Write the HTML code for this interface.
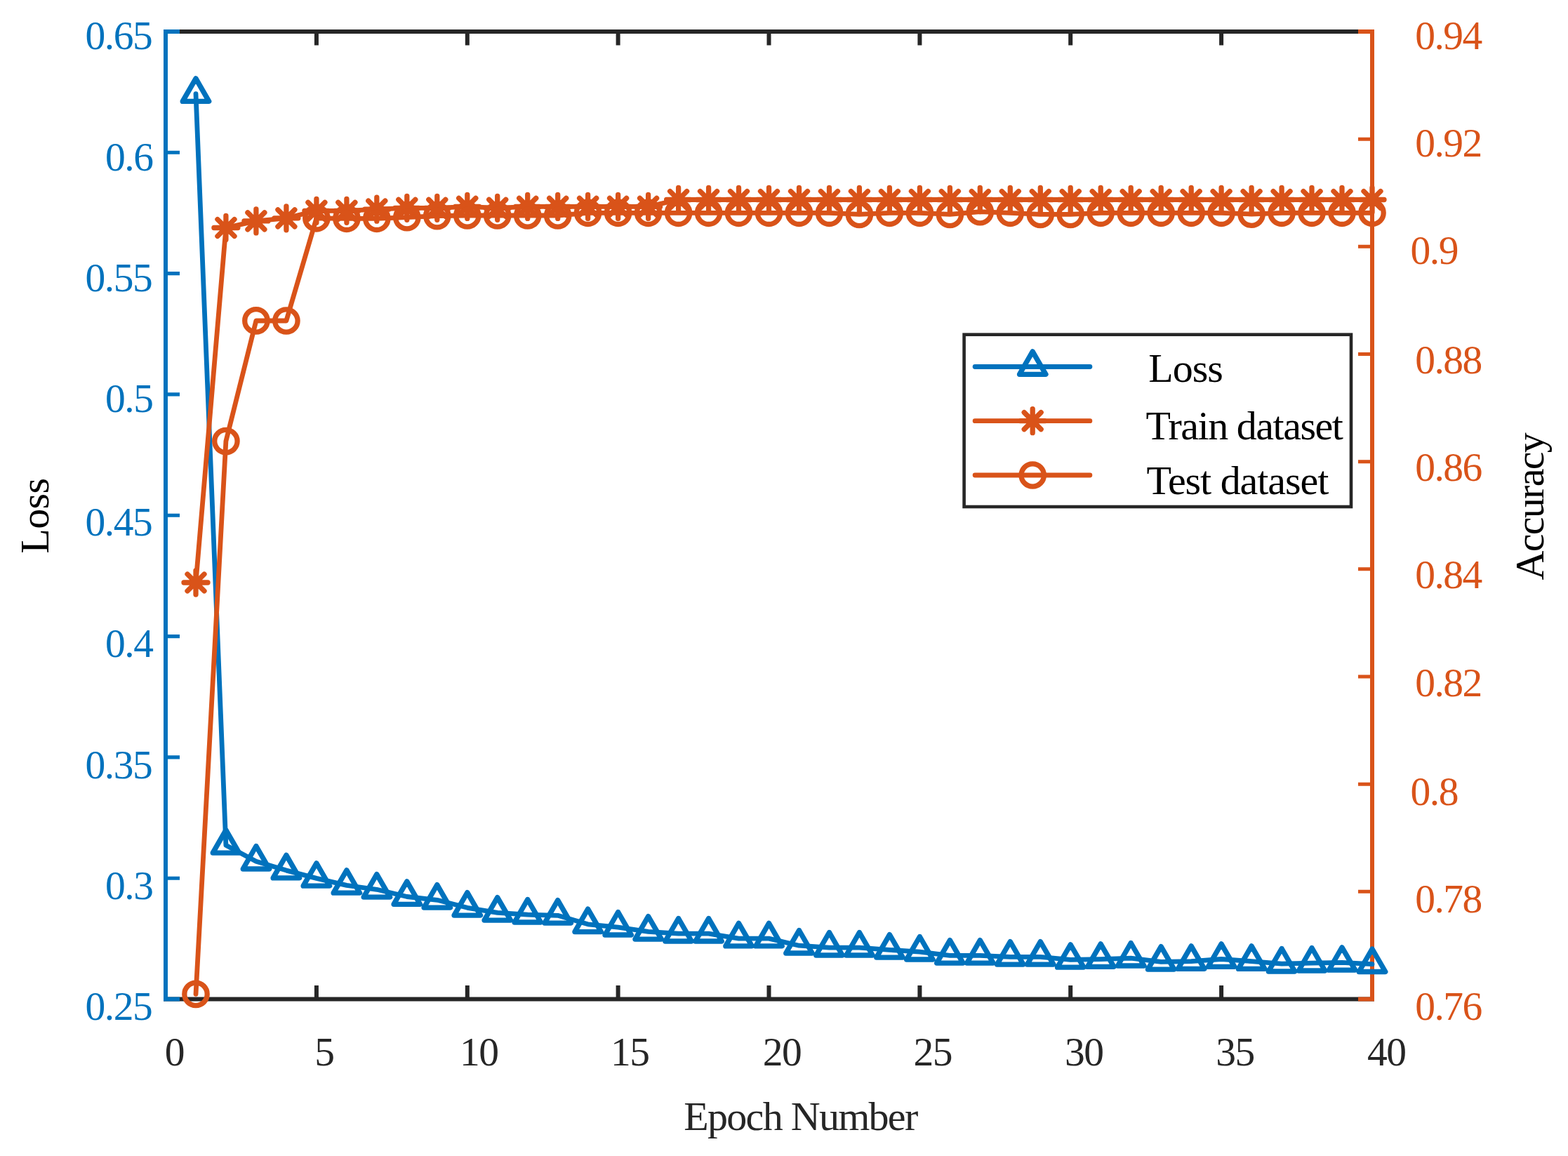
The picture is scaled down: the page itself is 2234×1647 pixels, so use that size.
<!DOCTYPE html>
<html><head><meta charset="utf-8"><title>Loss and Accuracy vs Epoch</title>
<style>
html,body{margin:0;padding:0;background:#fff;}
body{width:2234px;height:1647px;overflow:hidden;}
svg{display:block;}
text{font-family:"Liberation Serif","Times New Roman",serif;}
</style></head><body>
<svg width="2234" height="1647" viewBox="0 0 2234 1647">
<rect x="0" y="0" width="2234" height="1647" fill="#fff"/>

<g fill="none" stroke="#262626" stroke-width="6" stroke-linecap="butt">
<path d="M233 45H1958M233 1423.5H1958"/>
<path stroke-width="6" d="M236 1423.5V1404M236 45V64.5M450.9 1423.5V1404M450.9 45V64.5M665.8 1423.5V1404M665.8 45V64.5M880.6 1423.5V1404M880.6 45V64.5M1095.5 1423.5V1404M1095.5 45V64.5M1310.4 1423.5V1404M1310.4 45V64.5M1525.2 1423.5V1404M1525.2 45V64.5M1740.1 1423.5V1404M1740.1 45V64.5M1955 1423.5V1404M1955 45V64.5"/>
</g>
<path fill="none" stroke="#0072BD" stroke-width="6" d="M236 42V1426.5M236 1423.5H256M236 45H256"/>
<path fill="none" stroke="#0072BD" stroke-width="5.1" d="M236 1251.2H256M236 1078.9H256M236 906.6H256M236 734.2H256M236 561.9H256M236 389.6H256M236 217.3H256"/>
<path fill="none" stroke="#D95319" stroke-width="6" d="M1955 42V1426.5M1955 1423.5H1935M1955 45H1935"/>
<path fill="none" stroke="#D95319" stroke-width="5.1" d="M1955 1270.3H1935M1955 1117.2H1935M1955 964H1935M1955 810.8H1935M1955 657.7H1935M1955 504.5H1935M1955 351.3H1935M1955 198.2H1935"/>
<g fill="none" stroke="#0072BD" stroke-width="6.8" stroke-linejoin="round" stroke-linecap="round">
<path d="M279 133.6 L321.9 1204.3 L364.9 1227.2 L407.9 1240.1 L450.9 1251.4 L493.9 1261.4 L536.8 1267.3 L579.8 1277.5 L622.8 1282.3 L665.8 1293.3 L708.7 1300.3 L751.7 1303.2 L794.7 1304.3 L837.6 1316.8 L880.6 1321.2 L923.6 1327.3 L966.6 1330.2 L1009.6 1330.2 L1052.5 1337.1 L1095.5 1337.1 L1138.5 1347.2 L1181.5 1350.2 L1224.4 1350.2 L1267.4 1353.3 L1310.4 1356.2 L1353.4 1361.3 L1396.3 1361.3 L1439.3 1363.3 L1482.3 1363.3 L1525.2 1367.4 L1568.2 1366.6 L1611.2 1365.2 L1654.2 1370.3 L1697.2 1369.6 L1740.1 1366.5 L1783.1 1369.6 L1826.1 1373.2 L1869 1372.2 L1912 1371.4 L1955 1373.7"/>
<path stroke-width="7.3" d="M279 111.9L297.7 144.4L260.2 144.4ZM321.9 1182.6L340.7 1215.1L303.2 1215.1ZM364.9 1205.5L383.7 1238L346.2 1238ZM407.9 1218.4L426.6 1250.9L389.1 1250.9ZM450.9 1229.8L469.6 1262.2L432.1 1262.2ZM493.9 1239.8L512.6 1272.2L475.1 1272.2ZM536.8 1245.6L555.6 1278.1L518.1 1278.1ZM579.8 1255.8L598.5 1288.3L561 1288.3ZM622.8 1260.6L641.5 1293.1L604 1293.1ZM665.8 1271.6L684.5 1304.1L647 1304.1ZM708.7 1278.6L727.5 1311.1L690 1311.1ZM751.7 1281.5L770.5 1314L733 1314ZM794.7 1282.6L813.4 1315.1L775.9 1315.1ZM837.6 1295.1L856.4 1327.6L818.9 1327.6ZM880.6 1299.5L899.4 1332L861.9 1332ZM923.6 1305.6L942.4 1338.1L904.9 1338.1ZM966.6 1308.5L985.3 1341L947.8 1341ZM1009.6 1308.5L1028.3 1341L990.8 1341ZM1052.5 1315.4L1071.3 1347.9L1033.8 1347.9ZM1095.5 1315.4L1114.2 1347.9L1076.8 1347.9ZM1138.5 1325.5L1157.2 1358L1119.7 1358ZM1181.5 1328.5L1200.2 1361L1162.7 1361ZM1224.4 1328.5L1243.2 1361L1205.7 1361ZM1267.4 1331.6L1286.2 1364.1L1248.7 1364.1ZM1310.4 1334.5L1329.1 1367L1291.6 1367ZM1353.4 1339.6L1372.1 1372.1L1334.6 1372.1ZM1396.3 1339.6L1415.1 1372.1L1377.6 1372.1ZM1439.3 1341.6L1458 1374.1L1420.5 1374.1ZM1482.3 1341.6L1501 1374.1L1463.5 1374.1ZM1525.2 1345.8L1544 1378.2L1506.5 1378.2ZM1568.2 1344.9L1587 1377.4L1549.5 1377.4ZM1611.2 1343.5L1630 1376L1592.5 1376ZM1654.2 1348.6L1672.9 1381.1L1635.4 1381.1ZM1697.2 1347.9L1715.9 1380.4L1678.4 1380.4ZM1740.1 1344.8L1758.9 1377.3L1721.4 1377.3ZM1783.1 1347.9L1801.9 1380.4L1764.4 1380.4ZM1826.1 1351.5L1844.8 1384L1807.3 1384ZM1869 1350.5L1887.8 1383L1850.3 1383ZM1912 1349.8L1930.8 1382.2L1893.3 1382.2ZM1955 1352L1973.8 1384.5L1936.2 1384.5Z"/>
</g>
<g fill="none" stroke="#D95319" stroke-width="6.8" stroke-linejoin="round" stroke-linecap="round">
<path d="M279 830 L321.9 324.5 L364.9 314.9 L407.9 310.8 L450.9 300.3 L493.9 300.3 L536.8 298.2 L579.8 296.3 L622.8 296.3 L665.8 294.4 L708.7 296.3 L751.7 294.4 L794.7 294.4 L837.6 294.4 L880.6 294.4 L923.6 294.4 L966.6 284.5 L1009.6 284.5 L1052.5 284.5 L1095.5 284.5 L1138.5 284.5 L1181.5 284.5 L1224.4 284.5 L1267.4 284.5 L1310.4 284.5 L1353.4 284.5 L1396.3 284.5 L1439.3 284.5 L1482.3 284.5 L1525.2 284.5 L1568.2 284.5 L1611.2 284.5 L1654.2 284.5 L1697.2 284.5 L1740.1 284.5 L1783.1 284.5 L1826.1 284.5 L1869 284.5 L1912 284.5 L1955 284.5"/>
<path stroke-width="7.3" d="M262 830H296M279 813V847M267 818L291 842M267 842L291 818M304.9 324.5H338.9M321.9 307.5V341.5M309.9 312.5L334 336.5M309.9 336.5L334 312.5M347.9 314.9H381.9M364.9 297.9V331.9M352.9 302.9L376.9 326.9M352.9 326.9L376.9 302.9M390.9 310.8H424.9M407.9 293.8V327.8M395.9 298.8L419.9 322.8M395.9 322.8L419.9 298.8M433.9 300.3H467.9M450.9 283.3V317.3M438.9 288.3L462.9 312.3M438.9 312.3L462.9 288.3M476.9 300.3H510.9M493.9 283.3V317.3M481.8 288.3L505.9 312.3M481.8 312.3L505.9 288.3M519.8 298.2H553.8M536.8 281.2V315.2M524.8 286.2L548.8 310.2M524.8 310.2L548.8 286.2M562.8 296.3H596.8M579.8 279.3V313.3M567.8 284.3L591.8 308.3M567.8 308.3L591.8 284.3M605.8 296.3H639.8M622.8 279.3V313.3M610.8 284.3L634.8 308.3M610.8 308.3L634.8 284.3M648.8 294.4H682.8M665.8 277.4V311.4M653.7 282.4L677.8 306.4M653.7 306.4L677.8 282.4M691.7 296.3H725.7M708.7 279.3V313.3M696.7 284.3L720.7 308.3M696.7 308.3L720.7 284.3M734.7 294.4H768.7M751.7 277.4V311.4M739.7 282.4L763.7 306.4M739.7 306.4L763.7 282.4M777.7 294.4H811.7M794.7 277.4V311.4M782.7 282.4L806.7 306.4M782.7 306.4L806.7 282.4M820.6 294.4H854.6M837.6 277.4V311.4M825.6 282.4L849.7 306.4M825.6 306.4L849.7 282.4M863.6 294.4H897.6M880.6 277.4V311.4M868.6 282.4L892.6 306.4M868.6 306.4L892.6 282.4M906.6 294.4H940.6M923.6 277.4V311.4M911.6 282.4L935.6 306.4M911.6 306.4L935.6 282.4M949.6 284.5H983.6M966.6 267.5V301.5M954.6 272.5L978.6 296.5M954.6 296.5L978.6 272.5M992.6 284.5H1026.6M1009.6 267.5V301.5M997.5 272.5L1021.6 296.5M997.5 296.5L1021.6 272.5M1035.5 284.5H1069.5M1052.5 267.5V301.5M1040.5 272.5L1064.5 296.5M1040.5 296.5L1064.5 272.5M1078.5 284.5H1112.5M1095.5 267.5V301.5M1083.5 272.5L1107.5 296.5M1083.5 296.5L1107.5 272.5M1121.5 284.5H1155.5M1138.5 267.5V301.5M1126.5 272.5L1150.5 296.5M1126.5 296.5L1150.5 272.5M1164.5 284.5H1198.5M1181.5 267.5V301.5M1169.4 272.5L1193.5 296.5M1169.4 296.5L1193.5 272.5M1207.4 284.5H1241.4M1224.4 267.5V301.5M1212.4 272.5L1236.4 296.5M1212.4 296.5L1236.4 272.5M1250.4 284.5H1284.4M1267.4 267.5V301.5M1255.4 272.5L1279.4 296.5M1255.4 296.5L1279.4 272.5M1293.4 284.5H1327.4M1310.4 267.5V301.5M1298.4 272.5L1322.4 296.5M1298.4 296.5L1322.4 272.5M1336.4 284.5H1370.4M1353.4 267.5V301.5M1341.3 272.5L1365.4 296.5M1341.3 296.5L1365.4 272.5M1379.3 284.5H1413.3M1396.3 267.5V301.5M1384.3 272.5L1408.3 296.5M1384.3 296.5L1408.3 272.5M1422.3 284.5H1456.3M1439.3 267.5V301.5M1427.3 272.5L1451.3 296.5M1427.3 296.5L1451.3 272.5M1465.3 284.5H1499.3M1482.3 267.5V301.5M1470.3 272.5L1494.3 296.5M1470.3 296.5L1494.3 272.5M1508.2 284.5H1542.2M1525.2 267.5V301.5M1513.2 272.5L1537.3 296.5M1513.2 296.5L1537.3 272.5M1551.2 284.5H1585.2M1568.2 267.5V301.5M1556.2 272.5L1580.2 296.5M1556.2 296.5L1580.2 272.5M1594.2 284.5H1628.2M1611.2 267.5V301.5M1599.2 272.5L1623.2 296.5M1599.2 296.5L1623.2 272.5M1637.2 284.5H1671.2M1654.2 267.5V301.5M1642.2 272.5L1666.2 296.5M1642.2 296.5L1666.2 272.5M1680.2 284.5H1714.2M1697.2 267.5V301.5M1685.1 272.5L1709.2 296.5M1685.1 296.5L1709.2 272.5M1723.1 284.5H1757.1M1740.1 267.5V301.5M1728.1 272.5L1752.1 296.5M1728.1 296.5L1752.1 272.5M1766.1 284.5H1800.1M1783.1 267.5V301.5M1771.1 272.5L1795.1 296.5M1771.1 296.5L1795.1 272.5M1809.1 284.5H1843.1M1826.1 267.5V301.5M1814.1 272.5L1838.1 296.5M1814.1 296.5L1838.1 272.5M1852 284.5H1886M1869 267.5V301.5M1857 272.5L1881.1 296.5M1857 296.5L1881.1 272.5M1895 284.5H1929M1912 267.5V301.5M1900 272.5L1924 296.5M1900 296.5L1924 272.5M1938 284.5H1972M1955 267.5V301.5M1943 272.5L1967 296.5M1943 296.5L1967 272.5"/>
<path d="M279 1416.4 L321.9 628.6 L364.9 456.9 L407.9 457 L450.9 310.8 L493.9 311.3 L536.8 311.3 L579.8 309.7 L622.8 307.6 L665.8 307 L708.7 307 L751.7 307 L794.7 307 L837.6 303.3 L880.6 303.3 L923.6 303.3 L966.6 303.3 L1009.6 303.3 L1052.5 303.3 L1095.5 303.3 L1138.5 303.3 L1181.5 303.3 L1224.4 305.4 L1267.4 303.3 L1310.4 303.3 L1353.4 305.4 L1396.3 301.7 L1439.3 303.3 L1482.3 305.4 L1525.2 305.4 L1568.2 303.3 L1611.2 303.3 L1654.2 303.3 L1697.2 303.3 L1740.1 303.3 L1783.1 305.1 L1826.1 303.3 L1869 303.3 L1912 303.3 L1955 303.3"/>
<circle stroke-width="7.3" cx="279" cy="1416.4" r="16.2"/>
<circle stroke-width="7.3" cx="321.9" cy="628.6" r="16.2"/>
<circle stroke-width="7.3" cx="364.9" cy="456.9" r="16.2"/>
<circle stroke-width="7.3" cx="407.9" cy="457" r="16.2"/>
<circle stroke-width="7.3" cx="450.9" cy="310.8" r="16.2"/>
<circle stroke-width="7.3" cx="493.9" cy="311.3" r="16.2"/>
<circle stroke-width="7.3" cx="536.8" cy="311.3" r="16.2"/>
<circle stroke-width="7.3" cx="579.8" cy="309.7" r="16.2"/>
<circle stroke-width="7.3" cx="622.8" cy="307.6" r="16.2"/>
<circle stroke-width="7.3" cx="665.8" cy="307" r="16.2"/>
<circle stroke-width="7.3" cx="708.7" cy="307" r="16.2"/>
<circle stroke-width="7.3" cx="751.7" cy="307" r="16.2"/>
<circle stroke-width="7.3" cx="794.7" cy="307" r="16.2"/>
<circle stroke-width="7.3" cx="837.6" cy="303.3" r="16.2"/>
<circle stroke-width="7.3" cx="880.6" cy="303.3" r="16.2"/>
<circle stroke-width="7.3" cx="923.6" cy="303.3" r="16.2"/>
<circle stroke-width="7.3" cx="966.6" cy="303.3" r="16.2"/>
<circle stroke-width="7.3" cx="1009.6" cy="303.3" r="16.2"/>
<circle stroke-width="7.3" cx="1052.5" cy="303.3" r="16.2"/>
<circle stroke-width="7.3" cx="1095.5" cy="303.3" r="16.2"/>
<circle stroke-width="7.3" cx="1138.5" cy="303.3" r="16.2"/>
<circle stroke-width="7.3" cx="1181.5" cy="303.3" r="16.2"/>
<circle stroke-width="7.3" cx="1224.4" cy="305.4" r="16.2"/>
<circle stroke-width="7.3" cx="1267.4" cy="303.3" r="16.2"/>
<circle stroke-width="7.3" cx="1310.4" cy="303.3" r="16.2"/>
<circle stroke-width="7.3" cx="1353.4" cy="305.4" r="16.2"/>
<circle stroke-width="7.3" cx="1396.3" cy="301.7" r="16.2"/>
<circle stroke-width="7.3" cx="1439.3" cy="303.3" r="16.2"/>
<circle stroke-width="7.3" cx="1482.3" cy="305.4" r="16.2"/>
<circle stroke-width="7.3" cx="1525.2" cy="305.4" r="16.2"/>
<circle stroke-width="7.3" cx="1568.2" cy="303.3" r="16.2"/>
<circle stroke-width="7.3" cx="1611.2" cy="303.3" r="16.2"/>
<circle stroke-width="7.3" cx="1654.2" cy="303.3" r="16.2"/>
<circle stroke-width="7.3" cx="1697.2" cy="303.3" r="16.2"/>
<circle stroke-width="7.3" cx="1740.1" cy="303.3" r="16.2"/>
<circle stroke-width="7.3" cx="1783.1" cy="305.1" r="16.2"/>
<circle stroke-width="7.3" cx="1826.1" cy="303.3" r="16.2"/>
<circle stroke-width="7.3" cx="1869" cy="303.3" r="16.2"/>
<circle stroke-width="7.3" cx="1912" cy="303.3" r="16.2"/>
<circle stroke-width="7.3" cx="1955" cy="303.3" r="16.2"/>
</g>
<g font-size="57.5" fill="#0072BD" letter-spacing="-1.5">
<text x="121.5" y="1453.1">0.25</text>
<text x="150.1" y="1280.5">0.3</text>
<text x="121.5" y="1108.5">0.35</text>
<text x="150.1" y="935.5">0.4</text>
<text x="121.5" y="763.1">0.45</text>
<text x="150.1" y="586.8">0.5</text>
<text x="121.5" y="415">0.55</text>
<text x="150.1" y="243.1">0.6</text>
<text x="121.5" y="70.1">0.65</text>
</g>
<g font-size="57.5" fill="#D95319" letter-spacing="-1.5">
<text x="2016.2" y="1452.6">0.76</text>
<text x="2016.2" y="1300">0.78</text>
<text x="2009.5" y="1147.3">0.8</text>
<text x="2016.2" y="991.5">0.82</text>
<text x="2016.2" y="837.7">0.84</text>
<text x="2016.2" y="685">0.86</text>
<text x="2016.2" y="531.5">0.88</text>
<text x="2009.5" y="375.5">0.9</text>
<text x="2016.2" y="222.8">0.92</text>
<text x="2016.2" y="70">0.94</text>
</g>
<g font-size="57.5" fill="#262626" letter-spacing="-1.5">
<text x="234.7" y="1518.2">0</text>
<text x="448.3" y="1518.2">5</text>
<text x="655" y="1518.2">10</text>
<text x="870.1" y="1518.2">15</text>
<text x="1086.7" y="1518.2">20</text>
<text x="1301.4" y="1518.2">25</text>
<text x="1517.1" y="1518.2">30</text>
<text x="1732.2" y="1518.2">35</text>
<text x="1947.9" y="1518.2">40</text>
</g>
<text x="974.3" y="1609.9" font-size="58" fill="#262626" letter-spacing="-1.71">Epoch Number</text>
<text transform="translate(69.3 788.7) rotate(-90)" font-size="58" fill="#000" letter-spacing="-0.6">Loss</text>
<text transform="translate(2199 826.5) rotate(-90)" font-size="58" fill="#000" letter-spacing="-1.7">Accuracy</text>
<rect x="1373.6" y="476.7" width="551.4" height="245.3" fill="#fff" stroke="#262626" stroke-width="4.6"/>
<g fill="none" stroke-width="6.8" stroke-linejoin="round" stroke-linecap="round">
<path stroke="#0072BD" d="M1389.1 522.5H1552.9"/>
<path stroke="#0072BD" stroke-width="7.3" d="M1471.2 500.9L1490 533.3L1452.5 533.3Z"/>
<path stroke="#D95319" d="M1389.1 599.7H1552.9M1389.1 677H1552.9"/>
<path stroke="#D95319" stroke-width="7.3" d="M1454.2 599.7H1488.2M1471.2 582.7V616.7M1459.2 587.7L1483.2 611.7M1459.2 611.7L1483.2 587.7"/>
<circle stroke="#D95319" stroke-width="7.3" cx="1471.2" cy="677" r="16.2"/>
</g>
<g font-size="58" fill="#000">
<text x="1636.2" y="543.9" letter-spacing="-0.97">Loss</text>
<text x="1632.55" y="626.3" letter-spacing="-1.475">Train dataset</text>
<text x="1633.55" y="704.1" letter-spacing="-1.045">Test dataset</text>
</g>
</svg>
</body></html>
